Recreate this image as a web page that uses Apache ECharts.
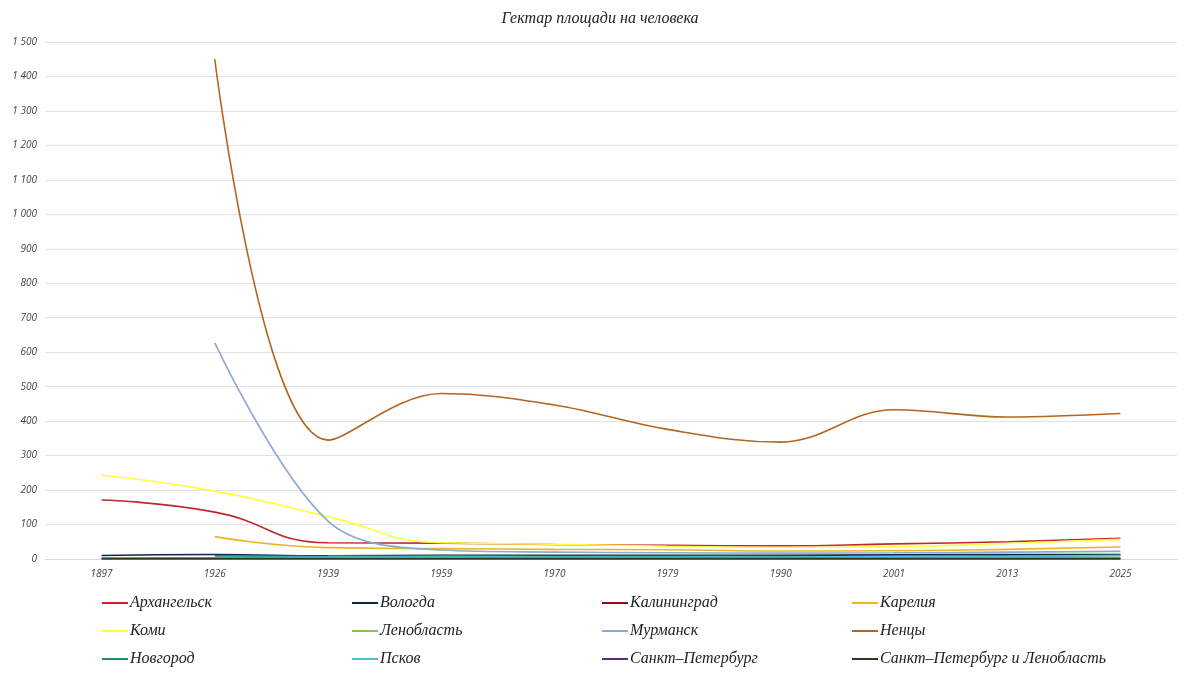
<!DOCTYPE html>
<html>
<head>
<meta charset="utf-8">
<script src="https://cdn.jsdelivr.net/npm/echarts@6/dist/echarts.min.js"></script>
<style>html,body{margin:0;padding:0;background:#fff}#c{width:1200px;height:675px}</style>
</head>
<body>
<div id="c"></div>
<script>
const years = ['1897','1926','1939','1959','1970','1979','1990','2001','2013','2025'];
const yTicks = { min: 0, max: 1500, interval: 100 };

const arkhangelsk = [171, 136, 47, 46, 42, 40, 38, 44, 50, 60];
const vologda     = [10, 13, 9, 11, 11, 11, 11, 12, 13, 13];
const kaliningrad = [null, null, null, 2, 1.8, 1.7, 1.6, 1.6, 1.5, 1.5];
const karelia     = [null, 65, 33, 30, 28, 27, 23, 24, 28, 35];
const komi        = [243, 197, 123, 47, 43, 37, 34, 36, 45, 57];
const lenoblast   = [null, null, 8, 6, 5, 5, 5, 5, 5, 4];
const murmansk    = [null, 627, 110, 26, 20, 18, 17, 18, 20, 22];
const nenets      = [null, 1450, 345, 480, 447, 376, 339, 433, 412, 422];
const novgorod    = [null, 9, 7, 9, 8, 8, 7, 8, 9, 10];
const pskov       = [3, 4, 6, 6, 6, 6, 6, 7, 8, 10];
const spb         = [0.1, 0.1, 0.1, 0.1, 0.1, 0.1, 0.1, 0.1, 0.1, 0.1];
const spbLo       = [1, 1, 1, 1, 1, 1, 1, 1, 1, 1];

const seriesDefs = [
  ['Архангельск', arkhangelsk, '#C0282D', 0.5],
  ['Вологда', vologda, '#0E2841', 0.5],
  ['Калининград', kaliningrad, '#8B1515', 0.5],
  ['Карелия', karelia, '#E6B628', 0.5],
  ['Коми', komi, '#FFFF40', 0.5],
  ['Ленобласть', lenoblast, '#8CC152', 0.5],
  ['Мурманск', murmansk, '#8EA9D0', 0.35],
  ['Ненцы', nenets, '#B5651D', 0.38],
  ['Новгород', novgorod, '#1E8C6A', 0.5],
  ['Псков', pskov, '#4BBFE0', 0.5],
  ['Санкт–Петербург', spb, '#5B2C83', 0.5],
  ['Санкт–Петербург и Ленобласть', spbLo, '#2B3A22', 0.5]
];

const columns = [
  ['Архангельск', 'Коми', 'Новгород'],
  ['Вологда', 'Ленобласть', 'Псков'],
  ['Калининград', 'Мурманск', 'Санкт–Петербург'],
  ['Карелия', 'Ненцы', 'Санкт–Петербург и Ленобласть']
];

const serifFont = '"Liberation Serif", "DejaVu Serif", serif';
const sansFont = '"Open Sans", "DejaVu Sans", sans-serif';

const chart = echarts.init(document.getElementById('c'), null, { renderer: 'canvas' });
chart.setOption({
  backgroundColor: '#ffffff',
  animation: false,
  title: {
    text: 'Гектар площади на человека',
    left: 'center',
    top: 6,
    textStyle: { fontFamily: serifFont, fontStyle: 'italic', fontWeight: 'normal', fontSize: 16, color: '#222' }
  },
  legend: columns.map((col, i) => ({
    data: col,
    orient: 'vertical',
    left: 102 + i * 250,
    top: 589,
    height: 86,
    padding: 0,
    icon: 'rect',
    itemWidth: 26,
    itemHeight: 2,
    itemGap: 0,
    textStyle: { fontFamily: serifFont, fontStyle: 'italic', fontSize: 16, color: '#222', lineHeight: 28, padding: [0, 0, 0, -3] }
  })),
  grid: { left: 45, right: 23, top: 42, bottom: 116, containLabel: false },
  xAxis: {
    type: 'category',
    data: years,
    boundaryGap: true,
    axisLine: { show: true, lineStyle: { color: '#d9d9d9' } },
    axisTick: { show: false },
    axisLabel: { fontFamily: sansFont, fontStyle: 'italic', fontSize: 10, color: '#444', margin: 10 }
  },
  yAxis: {
    type: 'value',
    min: yTicks.min,
    max: yTicks.max,
    interval: yTicks.interval,
    axisLine: { show: false },
    axisTick: { show: false },
    splitLine: { lineStyle: { color: '#e3e3e3', width: 1 } },
    axisLabel: {
      fontFamily: sansFont, fontStyle: 'italic', fontSize: 10, color: '#444', margin: 8,
      formatter: v => String(v).replace(/\B(?=(\d{3})+(?!\d))/g, ' ')
    }
  },
  series: seriesDefs.map(([name, data, color, sm]) => ({
    name, type: 'line', data,
    smooth: sm,
    symbol: 'none',
    connectNulls: false,
    lineStyle: { color, width: 1.6 },
    itemStyle: { color }
  }))
});
</script>
</body>
</html>
